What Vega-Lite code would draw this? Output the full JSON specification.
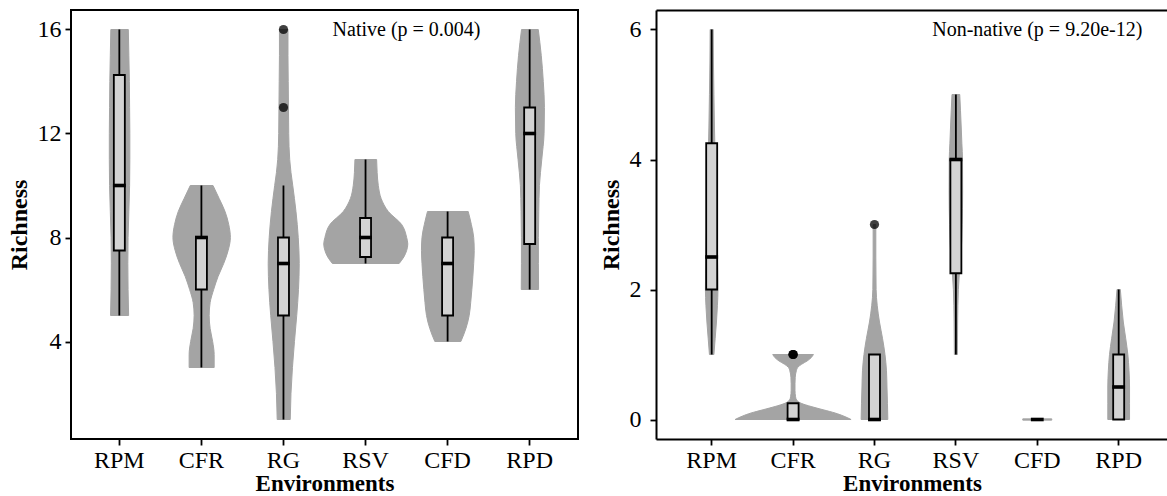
{
  "$schema": "https://vega.github.io/schema/vega-lite/v6.json",
  "padding": {"left": 6, "top": 9, "right": 0, "bottom": 0},
  "background": "white",
  "spacing": 20,
  "config": {
    "font": "Liberation Serif",
    "view": {"stroke": null},
    "axis": {"labelFont": "Liberation Serif", "labelFontSize": 24, "labelColor": "black", "titleFont": "Liberation Serif", "titleFontSize": 24, "titleFontWeight": "bold", "titleColor": "black", "tickColor": "black", "tickWidth": 1.8, "tickSize": 6, "labelPadding": 4, "grid": false, "domainColor": "black", "domainWidth": 2},
    "axisX": {"labelAngle": 0, "titlePadding": 0, "labelPadding": 3, "titleFontSize": 23},
    "axisY": {"titlePadding": 6}
  },
  "datasets": {
    "violin": [
      {"panel":"Native","env":"RPM","y":5,"w":0.22},{"panel":"Native","env":"RPM","y":6,"w":0.207},{"panel":"Native","env":"RPM","y":7,"w":0.201},{"panel":"Native","env":"RPM","y":8,"w":0.207},{"panel":"Native","env":"RPM","y":9,"w":0.226},{"panel":"Native","env":"RPM","y":10,"w":0.244},{"panel":"Native","env":"RPM","y":11,"w":0.25},{"panel":"Native","env":"RPM","y":12,"w":0.25},{"panel":"Native","env":"RPM","y":13,"w":0.244},{"panel":"Native","env":"RPM","y":14,"w":0.238},{"panel":"Native","env":"RPM","y":15,"w":0.226},{"panel":"Native","env":"RPM","y":16,"w":0.213},
      {"panel":"Native","env":"CFR","y":3,"w":0.305},{"panel":"Native","env":"CFR","y":3.5,"w":0.305},{"panel":"Native","env":"CFR","y":4,"w":0.268},{"panel":"Native","env":"CFR","y":4.5,"w":0.207},{"panel":"Native","env":"CFR","y":5,"w":0.183},{"panel":"Native","env":"CFR","y":5.5,"w":0.207},{"panel":"Native","env":"CFR","y":6,"w":0.293},{"panel":"Native","env":"CFR","y":6.5,"w":0.4},{"panel":"Native","env":"CFR","y":7,"w":0.537},{"panel":"Native","env":"CFR","y":7.5,"w":0.646},{"panel":"Native","env":"CFR","y":8,"w":0.7},{"panel":"Native","env":"CFR","y":8.5,"w":0.66},{"panel":"Native","env":"CFR","y":9,"w":0.57},{"panel":"Native","env":"CFR","y":9.5,"w":0.427},{"panel":"Native","env":"CFR","y":10,"w":0.277},
      {"panel":"Native","env":"RG","y":1,"w":0.159},{"panel":"Native","env":"RG","y":2,"w":0.177},{"panel":"Native","env":"RG","y":3,"w":0.213},{"panel":"Native","env":"RG","y":4,"w":0.262},{"panel":"Native","env":"RG","y":5,"w":0.317},{"panel":"Native","env":"RG","y":6,"w":0.36},{"panel":"Native","env":"RG","y":7,"w":0.378},{"panel":"Native","env":"RG","y":8,"w":0.354},{"panel":"Native","env":"RG","y":9,"w":0.299},{"panel":"Native","env":"RG","y":10,"w":0.22},{"panel":"Native","env":"RG","y":10.5,"w":0.177},{"panel":"Native","env":"RG","y":11,"w":0.146},{"panel":"Native","env":"RG","y":12,"w":0.122},{"panel":"Native","env":"RG","y":13,"w":0.116},{"panel":"Native","env":"RG","y":14,"w":0.11},{"panel":"Native","env":"RG","y":15,"w":0.104},{"panel":"Native","env":"RG","y":16,"w":0.104},
      {"panel":"Native","env":"RSV","y":7,"w":0.813},{"panel":"Native","env":"RSV","y":7.25,"w":0.927},{"panel":"Native","env":"RSV","y":7.5,"w":0.996},{"panel":"Native","env":"RSV","y":7.75,"w":1.024},{"panel":"Native","env":"RSV","y":8,"w":0.996},{"panel":"Native","env":"RSV","y":8.5,"w":0.874},{"panel":"Native","env":"RSV","y":9,"w":0.549},{"panel":"Native","env":"RSV","y":9.5,"w":0.374},{"panel":"Native","env":"RSV","y":10,"w":0.305},{"panel":"Native","env":"RSV","y":10.5,"w":0.277},{"panel":"Native","env":"RSV","y":11,"w":0.264},
      {"panel":"Native","env":"CFD","y":4,"w":0.317},{"panel":"Native","env":"CFD","y":4.5,"w":0.44},{"panel":"Native","env":"CFD","y":5,"w":0.52},{"panel":"Native","env":"CFD","y":5.5,"w":0.557},{"panel":"Native","env":"CFD","y":6,"w":0.585},{"panel":"Native","env":"CFD","y":6.5,"w":0.61},{"panel":"Native","env":"CFD","y":7,"w":0.63},{"panel":"Native","env":"CFD","y":7.5,"w":0.643},{"panel":"Native","env":"CFD","y":8,"w":0.63},{"panel":"Native","env":"CFD","y":8.5,"w":0.573},{"panel":"Native","env":"CFD","y":9,"w":0.496},
      {"panel":"Native","env":"RPD","y":6,"w":0.211},{"panel":"Native","env":"RPD","y":7,"w":0.207},{"panel":"Native","env":"RPD","y":8,"w":0.207},{"panel":"Native","env":"RPD","y":9,"w":0.216},{"panel":"Native","env":"RPD","y":10,"w":0.232},{"panel":"Native","env":"RPD","y":11,"w":0.289},{"panel":"Native","env":"RPD","y":12,"w":0.345},{"panel":"Native","env":"RPD","y":13,"w":0.354},{"panel":"Native","env":"RPD","y":14,"w":0.326},{"panel":"Native","env":"RPD","y":15,"w":0.277},{"panel":"Native","env":"RPD","y":16,"w":0.204},
      {"panel":"Non-native","env":"RPM","y":1,"w":0.055},{"panel":"Non-native","env":"RPM","y":1.25,"w":0.086},{"panel":"Non-native","env":"RPM","y":1.5,"w":0.117},{"panel":"Non-native","env":"RPM","y":1.75,"w":0.141},{"panel":"Non-native","env":"RPM","y":2,"w":0.154},{"panel":"Non-native","env":"RPM","y":2.5,"w":0.141},{"panel":"Non-native","env":"RPM","y":3,"w":0.123},{"panel":"Non-native","env":"RPM","y":3.5,"w":0.104},{"panel":"Non-native","env":"RPM","y":4,"w":0.086},{"panel":"Non-native","env":"RPM","y":4.5,"w":0.068},{"panel":"Non-native","env":"RPM","y":5,"w":0.055},{"panel":"Non-native","env":"RPM","y":5.5,"w":0.043},{"panel":"Non-native","env":"RPM","y":6,"w":0.037},
      {"panel":"Non-native","env":"CFR","y":0,"w":1.425},{"panel":"Non-native","env":"CFR","y":0.05,"w":1.253},{"panel":"Non-native","env":"CFR","y":0.1,"w":1.032},{"panel":"Non-native","env":"CFR","y":0.15,"w":0.737},{"panel":"Non-native","env":"CFR","y":0.2,"w":0.442},{"panel":"Non-native","env":"CFR","y":0.25,"w":0.197},{"panel":"Non-native","env":"CFR","y":0.3,"w":0.086},{"panel":"Non-native","env":"CFR","y":0.35,"w":0.061},{"panel":"Non-native","env":"CFR","y":0.45,"w":0.047},{"panel":"Non-native","env":"CFR","y":0.55,"w":0.047},{"panel":"Non-native","env":"CFR","y":0.65,"w":0.053},{"panel":"Non-native","env":"CFR","y":0.75,"w":0.08},{"panel":"Non-native","env":"CFR","y":0.8,"w":0.111},{"panel":"Non-native","env":"CFR","y":0.85,"w":0.209},{"panel":"Non-native","env":"CFR","y":0.9,"w":0.344},{"panel":"Non-native","env":"CFR","y":0.95,"w":0.442},{"panel":"Non-native","env":"CFR","y":1,"w":0.5},
      {"panel":"Non-native","env":"RG","y":0,"w":0.328},{"panel":"Non-native","env":"RG","y":0.25,"w":0.319},{"panel":"Non-native","env":"RG","y":0.5,"w":0.307},{"panel":"Non-native","env":"RG","y":0.75,"w":0.295},{"panel":"Non-native","env":"RG","y":1,"w":0.258},{"panel":"Non-native","env":"RG","y":1.25,"w":0.197},{"panel":"Non-native","env":"RG","y":1.5,"w":0.123},{"panel":"Non-native","env":"RG","y":1.75,"w":0.068},{"panel":"Non-native","env":"RG","y":2,"w":0.04},{"panel":"Non-native","env":"RG","y":2.5,"w":0.033},{"panel":"Non-native","env":"RG","y":3,"w":0.033},
      {"panel":"Non-native","env":"RSV","y":1,"w":0.037},{"panel":"Non-native","env":"RSV","y":1.5,"w":0.043},{"panel":"Non-native","env":"RSV","y":2,"w":0.061},{"panel":"Non-native","env":"RSV","y":2.25,"w":0.086},{"panel":"Non-native","env":"RSV","y":2.5,"w":0.123},{"panel":"Non-native","env":"RSV","y":3,"w":0.154},{"panel":"Non-native","env":"RSV","y":3.5,"w":0.166},{"panel":"Non-native","env":"RSV","y":4,"w":0.163},{"panel":"Non-native","env":"RSV","y":4.25,"w":0.147},{"panel":"Non-native","env":"RSV","y":4.5,"w":0.131},{"panel":"Non-native","env":"RSV","y":4.75,"w":0.114},{"panel":"Non-native","env":"RSV","y":5,"w":0.095},
      {"panel":"Non-native","env":"CFD","y":-0.01,"w":0.356},{"panel":"Non-native","env":"CFD","y":0.01,"w":0.356},
      {"panel":"Non-native","env":"RPD","y":0,"w":0.267},{"panel":"Non-native","env":"RPD","y":0.25,"w":0.267},{"panel":"Non-native","env":"RPD","y":0.5,"w":0.267},{"panel":"Non-native","env":"RPD","y":0.75,"w":0.254},{"panel":"Non-native","env":"RPD","y":1,"w":0.225},{"panel":"Non-native","env":"RPD","y":1.25,"w":0.172},{"panel":"Non-native","env":"RPD","y":1.5,"w":0.114},{"panel":"Non-native","env":"RPD","y":1.75,"w":0.074},{"panel":"Non-native","env":"RPD","y":2,"w":0.041}
    ],
    "box": [
      {"panel":"Native","env":"RPM","lower":5,"q1":7.5,"median":10,"q3":14.25,"upper":16},
      {"panel":"Native","env":"CFR","lower":3,"q1":6,"median":8,"q3":8,"upper":10},
      {"panel":"Native","env":"RG","lower":1,"q1":5,"median":7,"q3":8,"upper":10},
      {"panel":"Native","env":"RSV","lower":7,"q1":7.25,"median":8,"q3":8.75,"upper":11},
      {"panel":"Native","env":"CFD","lower":4,"q1":5,"median":7,"q3":8,"upper":9},
      {"panel":"Native","env":"RPD","lower":6,"q1":7.75,"median":12,"q3":13,"upper":16},
      {"panel":"Non-native","env":"RPM","lower":1,"q1":2,"median":2.5,"q3":4.25,"upper":6},
      {"panel":"Non-native","env":"CFR","lower":0,"q1":0,"median":0,"q3":0.25,"upper":0.25},
      {"panel":"Non-native","env":"RG","lower":0,"q1":0,"median":0,"q3":1,"upper":1},
      {"panel":"Non-native","env":"RSV","lower":1,"q1":2.25,"median":4,"q3":4,"upper":5},
      {"panel":"Non-native","env":"CFD","lower":0,"q1":0,"median":0,"q3":0,"upper":0},
      {"panel":"Non-native","env":"RPD","lower":0,"q1":0,"median":0.5,"q3":1,"upper":2}
    ],
    "outliers": [
      {"panel":"Native","env":"RG","value":16},
      {"panel":"Native","env":"RG","value":13},
      {"panel":"Non-native","env":"CFR","value":1},
      {"panel":"Non-native","env":"CFR","value":1},
      {"panel":"Non-native","env":"CFR","value":1},
      {"panel":"Non-native","env":"RG","value":3}
    ],
    "notes": [
      {"panel":"Native","env":"RSV","y":16,"text":"Native (p = 0.004)"},
      {"panel":"Non-native","env":"CFD","y":6,"text":"Non-native (p = 9.20e-12)"}
    ]
  },
  "hconcat": [
    {
      "width": 507,
      "height": 429,
      "view": {"stroke": "black", "strokeWidth": 2},
      "resolve": {"scale": {"x": "independent"}},
      "layer": [
        {"data": {"name": "violin"}, "transform": [{"filter": "datum.panel === 'Native' && datum.env === 'RPM'"}],
         "mark": {"type": "area", "orient": "horizontal", "interpolate": "monotone", "fill": "#a4a4a4", "stroke": "#a4a4a4", "strokeWidth": 1},
         "encoding": {
           "y": {"field": "y", "type": "quantitative", "scale": {"domain": [0.25, 16.75], "nice": false, "zero": false}, "axis": {"title": "Richness", "values": [4, 8, 12, 16], "domain": false}},
           "x": {"field": "w", "type": "quantitative", "stack": "center", "scale": {"domain": [-0.467, 5.711], "nice": false, "zero": false}, "axis": null}}},
        {"data": {"name": "violin"}, "transform": [{"filter": "datum.panel === 'Native' && datum.env === 'CFR'"}],
         "mark": {"type": "area", "orient": "horizontal", "interpolate": "monotone", "fill": "#a4a4a4", "stroke": "#a4a4a4", "strokeWidth": 1},
         "encoding": {
           "y": {"field": "y", "type": "quantitative", "scale": {"domain": [0.25, 16.75], "nice": false, "zero": false}},
           "x": {"field": "w", "type": "quantitative", "stack": "center", "scale": {"domain": [-1.242, 4.936], "nice": false, "zero": false}, "axis": null}}},
        {"data": {"name": "violin"}, "transform": [{"filter": "datum.panel === 'Native' && datum.env === 'RG'"}],
         "mark": {"type": "area", "orient": "horizontal", "interpolate": "monotone", "fill": "#a4a4a4", "stroke": "#a4a4a4", "strokeWidth": 1},
         "encoding": {
           "y": {"field": "y", "type": "quantitative", "scale": {"domain": [0.25, 16.75], "nice": false, "zero": false}},
           "x": {"field": "w", "type": "quantitative", "stack": "center", "scale": {"domain": [-2.403, 3.775], "nice": false, "zero": false}, "axis": null}}},
        {"data": {"name": "violin"}, "transform": [{"filter": "datum.panel === 'Native' && datum.env === 'RSV'"}],
         "mark": {"type": "area", "orient": "horizontal", "interpolate": "monotone", "fill": "#a4a4a4", "stroke": "#a4a4a4", "strokeWidth": 1},
         "encoding": {
           "y": {"field": "y", "type": "quantitative", "scale": {"domain": [0.25, 16.75], "nice": false, "zero": false}},
           "x": {"field": "w", "type": "quantitative", "stack": "center", "scale": {"domain": [-3.08, 3.098], "nice": false, "zero": false}, "axis": null}}},
        {"data": {"name": "violin"}, "transform": [{"filter": "datum.panel === 'Native' && datum.env === 'CFD'"}],
         "mark": {"type": "area", "orient": "horizontal", "interpolate": "monotone", "fill": "#a4a4a4", "stroke": "#a4a4a4", "strokeWidth": 1},
         "encoding": {
           "y": {"field": "y", "type": "quantitative", "scale": {"domain": [0.25, 16.75], "nice": false, "zero": false}},
           "x": {"field": "w", "type": "quantitative", "stack": "center", "scale": {"domain": [-4.2705, 1.9075], "nice": false, "zero": false}, "axis": null}}},
        {"data": {"name": "violin"}, "transform": [{"filter": "datum.panel === 'Native' && datum.env === 'RPD'"}],
         "mark": {"type": "area", "orient": "horizontal", "interpolate": "monotone", "fill": "#a4a4a4", "stroke": "#a4a4a4", "strokeWidth": 1},
         "encoding": {
           "y": {"field": "y", "type": "quantitative", "scale": {"domain": [0.25, 16.75], "nice": false, "zero": false}},
           "x": {"field": "w", "type": "quantitative", "stack": "center", "scale": {"domain": [-5.415, 0.763], "nice": false, "zero": false}, "axis": null}}},
        {
          "layer": [
            {"data": {"name": "box"}, "transform": [{"filter": "datum.panel === 'Native'"}],
             "mark": {"type": "rule", "color": "black", "strokeWidth": 1.8},
             "encoding": {
               "x": {"field": "env", "type": "nominal", "sort": ["RPM","CFR","RG","RSV","CFD","RPD"], "scale": {"type": "band", "domain": ["RPM","CFR","RG","RSV","CFD","RPD"], "paddingInner": 0, "paddingOuter": 0.089, "align": 0.5}, "axis": {"title": "Environments", "domain": false, "labelAngle": 0}},
               "y": {"field": "lower", "type": "quantitative", "scale": {"domain": [0.25, 16.75], "nice": false, "zero": false}},
               "y2": {"field": "upper"}}},
            {"data": {"name": "box"}, "transform": [{"filter": "datum.panel === 'Native'"}],
             "mark": {"type": "bar", "size": 11, "fill": "#d3d3d3", "stroke": "black", "strokeWidth": 1.8},
             "encoding": {
               "x": {"field": "env", "type": "nominal", "sort": ["RPM","CFR","RG","RSV","CFD","RPD"], "scale": {"type": "band", "domain": ["RPM","CFR","RG","RSV","CFD","RPD"], "paddingInner": 0, "paddingOuter": 0.089, "align": 0.5}},
               "y": {"field": "q1", "type": "quantitative", "scale": {"domain": [0.25, 16.75], "nice": false, "zero": false}},
               "y2": {"field": "q3"}}},
            {"data": {"name": "box"}, "transform": [{"filter": "datum.panel === 'Native'"}],
             "mark": {"type": "tick", "size": 12.8, "thickness": 3.6, "color": "black", "opacity": 1},
             "encoding": {
               "x": {"field": "env", "type": "nominal", "sort": ["RPM","CFR","RG","RSV","CFD","RPD"], "scale": {"type": "band", "domain": ["RPM","CFR","RG","RSV","CFD","RPD"], "paddingInner": 0, "paddingOuter": 0.089, "align": 0.5}},
               "y": {"field": "median", "type": "quantitative", "scale": {"domain": [0.25, 16.75], "nice": false, "zero": false}}}},
            {"data": {"name": "outliers"}, "transform": [{"filter": "datum.panel === 'Native'"}],
             "mark": {"type": "circle", "size": 85, "color": "black", "opacity": 0.75},
             "encoding": {
               "x": {"field": "env", "type": "nominal", "sort": ["RPM","CFR","RG","RSV","CFD","RPD"], "scale": {"type": "band", "domain": ["RPM","CFR","RG","RSV","CFD","RPD"], "paddingInner": 0, "paddingOuter": 0.089, "align": 0.5}},
               "y": {"field": "value", "type": "quantitative", "scale": {"domain": [0.25, 16.75], "nice": false, "zero": false}}}},
            {"data": {"name": "notes"}, "transform": [{"filter": "datum.panel === 'Native'"}],
             "mark": {"type": "text", "font": "Liberation Serif", "fontSize": 20, "color": "black", "align": "center", "baseline": "middle"},
             "encoding": {
               "x": {"field": "env", "type": "nominal", "bandPosition": 1, "sort": ["RPM","CFR","RG","RSV","CFD","RPD"], "scale": {"type": "band", "domain": ["RPM","CFR","RG","RSV","CFD","RPD"], "paddingInner": 0, "paddingOuter": 0.089, "align": 0.5}},
               "y": {"field": "y", "type": "quantitative", "scale": {"domain": [0.25, 16.75], "nice": false, "zero": false}},
               "text": {"field": "text"}}}
          ]
        }
      ]
    },
    {
      "width": 512,
      "height": 429,
      "view": {"stroke": null},
      "resolve": {"scale": {"x": "independent"}},
      "layer": [
        {"data": {"name": "violin"}, "transform": [{"filter": "datum.panel === 'Non-native' && datum.env === 'RPM'"}],
         "mark": {"type": "area", "orient": "horizontal", "interpolate": "monotone", "fill": "#a4a4a4", "stroke": "#a4a4a4", "strokeWidth": 1},
         "encoding": {
           "y": {"field": "y", "type": "quantitative", "scale": {"domain": [-0.3, 6.3], "nice": false, "zero": false}, "axis": {"title": "Richness", "values": [0, 2, 4, 6], "format": "d", "labelPadding": 9, "domain": true}},
           "x": {"field": "w", "type": "quantitative", "stack": "center", "scale": {"domain": [-0.607, 5.683], "nice": false, "zero": false}, "axis": null}}},
        {"data": {"name": "violin"}, "transform": [{"filter": "datum.panel === 'Non-native' && datum.env === 'CFR'"}],
         "mark": {"type": "area", "orient": "horizontal", "interpolate": "monotone", "fill": "#a4a4a4", "stroke": "#a4a4a4", "strokeWidth": 1},
         "encoding": {
           "y": {"field": "y", "type": "quantitative", "scale": {"domain": [-0.3, 6.3], "nice": false, "zero": false}},
           "x": {"field": "w", "type": "quantitative", "stack": "center", "scale": {"domain": [-0.9715, 5.3185], "nice": false, "zero": false}, "axis": null}}},
        {"data": {"name": "violin"}, "transform": [{"filter": "datum.panel === 'Non-native' && datum.env === 'RG'"}],
         "mark": {"type": "area", "orient": "horizontal", "interpolate": "monotone", "fill": "#a4a4a4", "stroke": "#a4a4a4", "strokeWidth": 1},
         "encoding": {
           "y": {"field": "y", "type": "quantitative", "scale": {"domain": [-0.3, 6.3], "nice": false, "zero": false}},
           "x": {"field": "w", "type": "quantitative", "stack": "center", "scale": {"domain": [-2.52, 3.77], "nice": false, "zero": false}, "axis": null}}},
        {"data": {"name": "violin"}, "transform": [{"filter": "datum.panel === 'Non-native' && datum.env === 'RSV'"}],
         "mark": {"type": "area", "orient": "horizontal", "interpolate": "monotone", "fill": "#a4a4a4", "stroke": "#a4a4a4", "strokeWidth": 1},
         "encoding": {
           "y": {"field": "y", "type": "quantitative", "scale": {"domain": [-0.3, 6.3], "nice": false, "zero": false}},
           "x": {"field": "w", "type": "quantitative", "stack": "center", "scale": {"domain": [-3.601, 2.689], "nice": false, "zero": false}, "axis": null}}},
        {"data": {"name": "violin"}, "transform": [{"filter": "datum.panel === 'Non-native' && datum.env === 'CFD'"}],
         "mark": {"type": "area", "orient": "horizontal", "interpolate": "linear", "fill": "#a4a4a4", "stroke": "#a4a4a4", "strokeWidth": 1},
         "encoding": {
           "y": {"field": "y", "type": "quantitative", "scale": {"domain": [-0.3, 6.3], "nice": false, "zero": false}},
           "x": {"field": "w", "type": "quantitative", "stack": "center", "scale": {"domain": [-4.506, 1.784], "nice": false, "zero": false}, "axis": null}}},
        {"data": {"name": "violin"}, "transform": [{"filter": "datum.panel === 'Non-native' && datum.env === 'RPD'"}],
         "mark": {"type": "area", "orient": "horizontal", "interpolate": "monotone", "fill": "#a4a4a4", "stroke": "#a4a4a4", "strokeWidth": 1},
         "encoding": {
           "y": {"field": "y", "type": "quantitative", "scale": {"domain": [-0.3, 6.3], "nice": false, "zero": false}},
           "x": {"field": "w", "type": "quantitative", "stack": "center", "scale": {"domain": [-5.5505, 0.7395], "nice": false, "zero": false}, "axis": null}}},
        {
          "resolve": {"axis": {"x": "independent"}},
          "layer": [
            {"data": {"name": "box"}, "transform": [{"filter": "datum.panel === 'Non-native'"}],
             "mark": {"type": "rule", "color": "black", "strokeWidth": 1.8},
             "encoding": {
               "x": {"field": "env", "type": "nominal", "sort": ["RPM","CFR","RG","RSV","CFD","RPD"], "scale": {"type": "band", "domain": ["RPM","CFR","RG","RSV","CFD","RPD"], "paddingInner": 0, "paddingOuter": 0.145, "align": 0.635}, "axis": {"title": "Environments", "domain": true, "labelAngle": 0}},
               "y": {"field": "lower", "type": "quantitative", "scale": {"domain": [-0.3, 6.3], "nice": false, "zero": false}},
               "y2": {"field": "upper"}}},
            {"data": {"name": "box"}, "transform": [{"filter": "datum.panel === 'Non-native'"}],
             "mark": {"type": "bar", "size": 11, "fill": "#d3d3d3", "stroke": "black", "strokeWidth": 1.8},
             "encoding": {
               "x": {"field": "env", "type": "nominal", "sort": ["RPM","CFR","RG","RSV","CFD","RPD"], "scale": {"type": "band", "domain": ["RPM","CFR","RG","RSV","CFD","RPD"], "paddingInner": 0, "paddingOuter": 0.145, "align": 0.635}, "axis": {"orient": "top", "labels": false, "ticks": false, "title": null, "domain": true}},
               "y": {"field": "q1", "type": "quantitative", "scale": {"domain": [-0.3, 6.3], "nice": false, "zero": false}},
               "y2": {"field": "q3"}}},
            {"data": {"name": "box"}, "transform": [{"filter": "datum.panel === 'Non-native'"}],
             "mark": {"type": "tick", "size": 12.8, "thickness": 3.6, "color": "black", "opacity": 1},
             "encoding": {
               "x": {"field": "env", "type": "nominal", "sort": ["RPM","CFR","RG","RSV","CFD","RPD"], "scale": {"type": "band", "domain": ["RPM","CFR","RG","RSV","CFD","RPD"], "paddingInner": 0, "paddingOuter": 0.145, "align": 0.635}, "axis": null},
               "y": {"field": "median", "type": "quantitative", "scale": {"domain": [-0.3, 6.3], "nice": false, "zero": false}}}},
            {"data": {"name": "outliers"}, "transform": [{"filter": "datum.panel === 'Non-native'"}],
             "mark": {"type": "circle", "size": 85, "color": "black", "opacity": 0.75},
             "encoding": {
               "x": {"field": "env", "type": "nominal", "sort": ["RPM","CFR","RG","RSV","CFD","RPD"], "scale": {"type": "band", "domain": ["RPM","CFR","RG","RSV","CFD","RPD"], "paddingInner": 0, "paddingOuter": 0.145, "align": 0.635}, "axis": null},
               "y": {"field": "value", "type": "quantitative", "scale": {"domain": [-0.3, 6.3], "nice": false, "zero": false}}}},
            {"data": {"name": "notes"}, "transform": [{"filter": "datum.panel === 'Non-native'"}],
             "mark": {"type": "text", "font": "Liberation Serif", "fontSize": 20, "color": "black", "align": "center", "baseline": "middle"},
             "encoding": {
               "x": {"field": "env", "type": "nominal", "sort": ["RPM","CFR","RG","RSV","CFD","RPD"], "scale": {"type": "band", "domain": ["RPM","CFR","RG","RSV","CFD","RPD"], "paddingInner": 0, "paddingOuter": 0.145, "align": 0.635}, "axis": null},
               "y": {"field": "y", "type": "quantitative", "scale": {"domain": [-0.3, 6.3], "nice": false, "zero": false}},
               "text": {"field": "text"}}}
          ]
        }
      ]
    }
  ]
}
